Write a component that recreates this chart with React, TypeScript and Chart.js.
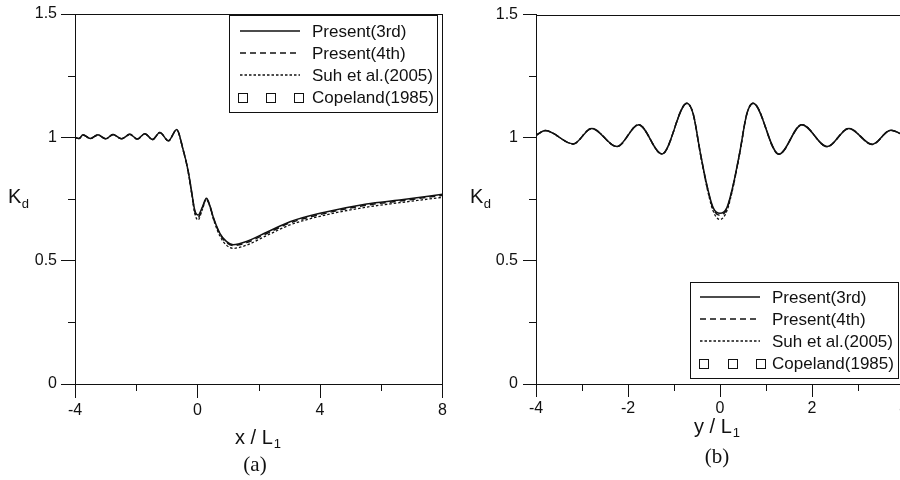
import React, { useEffect, useRef } from "react";
import { Chart, registerables } from "chart.js";
Chart.register(...registerables);

const SANS = "'Liberation Sans', Arial, Helvetica, sans-serif";
const SERIF = "'Liberation Serif', 'Times New Roman', serif";

const seriesLabels = ["Present(3rd)", "Present(4th)", "Suh et al.(2005)", "Copeland(1985)"];

const yTicks = [0, 0.5, 1, 1.5];
const yMinorTicks = [0.25, 0.75, 1.25];

// ---- panel (a) ----
const aXTicks = [-4, 0, 4, 8];
const aXMinorTicks = [-2, 2, 6];
const aX = [-4, -3.87, -3.74, -3.5, -3.25, -3.0, -2.76, -2.48, -2.21, -1.96, -1.72, -1.47, -1.23, -0.95, -0.68, -0.47, -0.31, -0.2, -0.09, 0.02, 0.15, 0.29, 0.4, 0.51, 0.73, 0.95, 1.16, 1.6, 2.26, 3.02, 4.0, 5.52, 6.6, 8.0];
const aPresent3 = [1.0, 0.995, 1.01, 0.995, 1.01, 0.994, 1.011, 0.994, 1.012, 0.993, 1.015, 0.991, 1.02, 0.986, 1.032, 0.95, 0.867, 0.786, 0.705, 0.685, 0.715, 0.753, 0.725, 0.678, 0.611, 0.577, 0.565, 0.578, 0.615, 0.658, 0.692, 0.73, 0.746, 0.769];
const aPresent4 = [1.0, 0.995, 1.01, 0.995, 1.01, 0.994, 1.011, 0.994, 1.012, 0.993, 1.015, 0.991, 1.02, 0.986, 1.031, 0.95, 0.865, 0.783, 0.7, 0.675, 0.71, 0.751, 0.723, 0.676, 0.608, 0.573, 0.561, 0.573, 0.61, 0.653, 0.687, 0.725, 0.742, 0.765];
const aSuh = [1.0, 0.995, 1.009, 0.995, 1.009, 0.994, 1.01, 0.994, 1.011, 0.993, 1.014, 0.991, 1.019, 0.986, 1.03, 0.948, 0.862, 0.778, 0.692, 0.665, 0.705, 0.748, 0.72, 0.672, 0.6, 0.562, 0.55, 0.563, 0.602, 0.645, 0.68, 0.717, 0.735, 0.757];
const aCopelandX: number[] = [];
const aCopelandY: number[] = [];

// ---- panel (b) ----
const bXTicks = [-4, -2, 0, 2, 4];
const bXMinorTicks = [-3, -1, 1, 3];
const bX = [-4, -3.8, -3.19, -2.79, -2.24, -1.77, -1.26, -0.72, -0.58, -0.435, -0.29, -0.15, 0, 0.15, 0.29, 0.435, 0.58, 0.72, 1.28, 1.78, 2.33, 2.8, 3.31, 3.71, 4.0];
const bPresent3 = [1.01, 1.029, 0.975, 1.038, 0.964, 1.053, 0.934, 1.14, 1.095, 0.946, 0.811, 0.716, 0.693, 0.716, 0.811, 0.946, 1.095, 1.14, 0.933, 1.053, 0.964, 1.038, 0.973, 1.03, 1.01];
const bPresent4 = [1.01, 1.029, 0.975, 1.038, 0.964, 1.053, 0.934, 1.14, 1.095, 0.945, 0.809, 0.712, 0.685, 0.712, 0.809, 0.945, 1.095, 1.14, 0.933, 1.053, 0.964, 1.038, 0.973, 1.03, 1.01];
const bSuh = [1.01, 1.029, 0.975, 1.038, 0.964, 1.053, 0.934, 1.14, 1.094, 0.942, 0.803, 0.703, 0.668, 0.703, 0.803, 0.942, 1.094, 1.14, 0.933, 1.053, 0.964, 1.038, 0.973, 1.03, 1.01];
const bCopelandX: number[] = [];
const bCopelandY: number[] = [];

const INK = "#111";

function pts(xs: number[], ys: number[]) {
  return xs.map((x, i) => ({ x, y: ys[i] }));
}

function makeDatasets(x: number[], p3: number[], p4: number[], suh: number[], cx: number[], cy: number[]) {
  const base = {
    borderColor: INK,
    borderWidth: 1.5,
    pointRadius: 0,
    fill: false,
    cubicInterpolationMode: "monotone",
  };
  return [
    { ...base, label: seriesLabels[0], data: pts(x, p3), borderDash: [] },
    { ...base, label: seriesLabels[1], data: pts(x, p4), borderDash: [6, 4] },
    { ...base, label: seriesLabels[2], data: pts(x, suh), borderDash: [2.5, 2], borderWidth: 1.3 },
    {
      label: seriesLabels[3],
      data: pts(cx, cy),
      showLine: false,
      pointStyle: "rect",
      pointRadius: 4.5,
      borderColor: INK,
      borderWidth: 1,
      backgroundColor: "rgba(0,0,0,0)",
    },
  ];
}

const decorPlugin = {
  id: "decor",
  afterDraw(chart: any, _a: any, o: any) {
    const { ctx, chartArea: ca } = chart;
    const xs = chart.scales.x;
    const ys = chart.scales.y;
    ctx.save();
    ctx.strokeStyle = INK;
    ctx.fillStyle = INK;
    ctx.lineWidth = 1;
    ctx.setLineDash([]);
    ctx.beginPath();
    const top = Math.round(ca.top) + 0.5;
    const right = Math.round(ca.right) - 0.5;
    ctx.moveTo(ca.left, top);
    ctx.lineTo(ca.right, top);
    ctx.moveTo(right, ca.top);
    ctx.lineTo(right, ca.bottom);
    for (const v of o.yMinor) {
      const py = Math.round(ys.getPixelForValue(v)) + 0.5;
      ctx.moveTo(ca.left - o.minorLen, py);
      ctx.lineTo(ca.left, py);
    }
    for (const v of o.xMinor) {
      const px = Math.round(xs.getPixelForValue(v)) + 0.5;
      ctx.moveTo(px, ca.bottom);
      ctx.lineTo(px, ca.bottom + o.minorLen);
    }
    ctx.stroke();

    // y title K_d
    ctx.textAlign = "left";
    ctx.textBaseline = "alphabetic";
    ctx.font = `20px ${SANS}`;
    ctx.fillText("K", o.kX, o.kY);
    const kw = ctx.measureText("K").width;
    ctx.font = `13px ${SANS}`;
    ctx.fillText("d", o.kX + kw + 0.5, o.kY + 5);

    // x title
    ctx.font = `20px ${SANS}`;
    const mw = ctx.measureText(o.xTitle).width;
    ctx.font = `13px ${SANS}`;
    const sw = ctx.measureText(o.xSub).width;
    const x0 = o.xTitleCx - (mw + 1 + sw) / 2;
    ctx.font = `20px ${SANS}`;
    ctx.fillText(o.xTitle, x0, o.xTitleY);
    ctx.font = `13px ${SANS}`;
    ctx.fillText(o.xSub, x0 + mw + 1, o.xTitleY + 4);

    // caption
    ctx.font = `21px ${SERIF}`;
    ctx.textAlign = "center";
    ctx.textBaseline = "middle";
    ctx.fillText(o.caption, o.capX, o.capY);

    // legend
    const lg = o.legend;
    ctx.fillStyle = "#fff";
    ctx.fillRect(lg.x, lg.y, lg.w, lg.h);
    ctx.strokeStyle = INK;
    ctx.lineWidth = 1;
    ctx.strokeRect(lg.x + 0.5, lg.y + 0.5, lg.w, lg.h);
    ctx.fillStyle = INK;
    ctx.font = `17px ${SANS}`;
    ctx.textAlign = "left";
    ctx.textBaseline = "middle";
    chart.data.datasets.forEach((ds: any, i: number) => {
      const cy = lg.y + lg.first + i * lg.gap;
      if (ds.showLine === false) {
        ctx.setLineDash([]);
        ctx.lineWidth = 1;
        const s = ds.pointRadius * 2;
        for (const sx of lg.sq) {
          ctx.strokeRect(Math.round(sx - s / 2) + 0.5, Math.round(cy - s / 2) + 0.5, s, s);
        }
      } else {
        ctx.setLineDash(ds.borderDash || []);
        ctx.lineWidth = ds.borderWidth;
        ctx.beginPath();
        ctx.moveTo(lg.s0, cy);
        ctx.lineTo(lg.s1, cy);
        ctx.stroke();
      }
      ctx.setLineDash([]);
      ctx.fillText(ds.label, lg.tx, cy + 1);
    });
    ctx.restore();
  },
};

function buildConfig(p: any) {
  const tickFont = { family: SANS, size: 16 };
  return {
    type: "line",
    data: { datasets: p.datasets },
    options: {
      responsive: false,
      animation: false,
      devicePixelRatio: 1,
      layout: { padding: { top: 14, right: p.padRight, left: 0, bottom: 0 } },
      plugins: {
        legend: { display: false },
        tooltip: { enabled: false },
        decor: p.decor,
      },
      scales: {
        x: {
          type: "linear",
          min: p.xMin,
          max: p.xMax,
          afterBuildTicks: (s: any) => {
            s.ticks = p.xTicks.map((v: number) => ({ value: v }));
          },
          afterFit: (s: any) => {
            s.height = 96;
          },
          grid: { drawOnChartArea: false, drawTicks: true, tickLength: p.tickLen, tickColor: INK, tickWidth: 1 },
          border: { display: true, color: INK, width: 1 },
          ticks: {
            color: INK,
            font: tickFont,
            padding: p.xPad,
            maxRotation: 0,
            autoSkip: false,
            callback: (v: any) => String(v),
          },
        },
        y: {
          type: "linear",
          min: 0,
          max: 1.5,
          afterBuildTicks: (s: any) => {
            s.ticks = yTicks.map((v) => ({ value: v }));
          },
          afterFit: (s: any) => {
            s.width = p.yWidth;
          },
          grid: { drawOnChartArea: false, drawTicks: true, tickLength: p.tickLen, tickColor: INK, tickWidth: 1 },
          border: { display: true, color: INK, width: 1 },
          ticks: {
            color: INK,
            font: tickFont,
            padding: p.yPad,
            autoSkip: false,
            callback: (v: any) => String(v),
          },
        },
      },
    },
    plugins: [decorPlugin],
  };
}

function ChartCanvas({ width, height, left, makeConfig }: any) {
  const ref = useRef<HTMLCanvasElement>(null);
  useEffect(() => {
    const chart = new Chart(ref.current as HTMLCanvasElement, makeConfig() as any);
    return () => chart.destroy();
  }, []);
  return (
    <canvas
      ref={ref}
      width={width}
      height={height}
      style={{ position: "absolute", left, top: 0, width, height, display: "block" }}
    />
  );
}

const configA = () =>
  buildConfig({
    datasets: makeDatasets(aX, aPresent3, aPresent4, aSuh, aCopelandX, aCopelandY),
    xMin: -4,
    xMax: 8,
    xTicks: aXTicks,
    padRight: 7,
    yWidth: 75,
    tickLen: 14,
    xPad: 3,
    yPad: 4,
    decor: {
      xMinor: aXMinorTicks,
      yMinor: yMinorTicks,
      minorLen: 7,
      kX: 8,
      kY: 203,
      xTitle: "x / L",
      xSub: "1",
      xTitleCx: 258,
      xTitleY: 444,
      caption: "(a)",
      capX: 255,
      capY: 465,
      legend: { x: 229, y: 15, w: 208, h: 97, first: 16, gap: 22, s0: 240, s1: 300, tx: 312, sq: [242, 270, 298] },
    },
  });

const configB = () =>
  buildConfig({
    datasets: makeDatasets(bX, bPresent3, bPresent4, bSuh, bCopelandX, bCopelandY),
    xMin: -4,
    xMax: 4,
    xTicks: bXTicks,
    padRight: 16,
    yWidth: 86,
    tickLen: 13,
    xPad: 2,
    yPad: 5,
    decor: {
      xMinor: bXMinorTicks,
      yMinor: yMinorTicks,
      minorLen: 7,
      kX: 20,
      kY: 203,
      xTitle: "y / L",
      xSub: "1",
      xTitleCx: 267,
      xTitleY: 433,
      caption: "(b)",
      capX: 267,
      capY: 457,
      legend: { x: 240, y: 282, w: 208, h: 96, first: 15, gap: 22, s0: 250, s1: 310, tx: 322, sq: [253, 282, 310] },
    },
  });

export default function App() {
  return (
    <div
      style={{
        position: "fixed",
        left: 0,
        top: 0,
        width: 900,
        height: 480,
        overflow: "hidden",
        background: "#fff",
      }}
    >
      <ChartCanvas width={450} height={480} left={0} makeConfig={configA} />
      <ChartCanvas width={470} height={480} left={450} makeConfig={configB} />
    </div>
  );
}
